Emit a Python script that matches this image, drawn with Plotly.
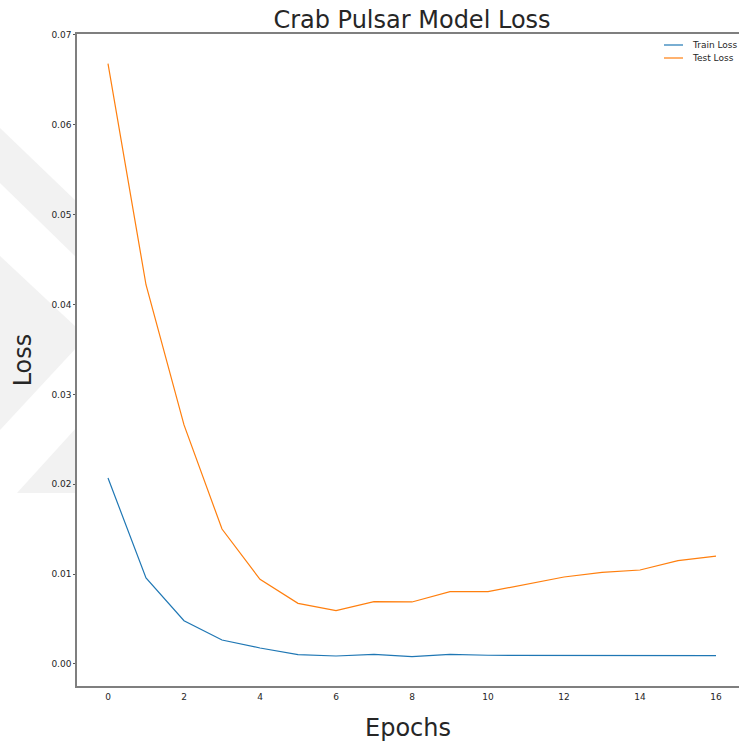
import plotly.graph_objects as go

epochs = list(range(17))
train_loss = [0.0207, 0.00957, 0.00482, 0.00267, 0.00178, 0.00104, 0.00089, 0.00108,
              0.00081, 0.00108, 0.00097, 0.00097, 0.00092, 0.00097, 0.00097, 0.00089, 0.00092]
test_loss = [0.0668, 0.0422, 0.0266, 0.01502, 0.00942, 0.00675, 0.00593, 0.00694,
             0.0069, 0.00805, 0.00805, 0.00887, 0.00968, 0.0102, 0.01046, 0.0115, 0.0120]
y_ticks = [0.00, 0.01, 0.02, 0.03, 0.04, 0.05, 0.06, 0.07]
y_tick_labels = ["0.00", "0.01", "0.02", "0.03", "0.04", "0.05", "0.06", "0.07"]
x_ticks = [0, 2, 4, 6, 8, 10, 12, 14, 16]
series_names = ["Train Loss", "Test Loss"]
series_colors = ["#1f77b4", "#ff7f0e"]

W, H = 739, 742
ML, MT, MB, MR = 77, 34, 56, 0
FONT = "DejaVu Sans"
TXT = "#262626"

fig = go.Figure()
for name, vals, col in zip(series_names, [train_loss, test_loss], series_colors):
    fig.add_trace(go.Scatter(x=epochs, y=vals, mode="lines", name=name,
                             line=dict(color=col, width=1.2), showlegend=False))

pw, ph = W - ML - MR, H - MT - MB
def px(x):
    return (x - ML) / pw
def py(y):
    return 1 - (y - MT) / ph

# faint watermark in the left margin
polys = [
    [(0, 128), (0, 183), (77, 258), (77, 202)],
    [(0, 256), (77, 328), (77, 347), (0, 430)],
    [(17, 493), (77, 427), (77, 493)],
]
shapes = []
for poly in polys:
    path = "M " + " L ".join(f"{px(x)},{py(y)}" for x, y in poly) + " Z"
    shapes.append(dict(type="path", xref="paper", yref="paper", path=path,
                       fillcolor="#f2f2f2", line=dict(width=0), layer="below"))

# legend (matplotlib style, top right, compact)
annotations = []
for i, (name, col) in enumerate(zip(series_names, series_colors)):
    yy = 45 + 13 * i
    shapes.append(dict(type="line", xref="paper", yref="paper",
                       x0=px(664), x1=px(683), y0=py(yy), y1=py(yy),
                       line=dict(color=col, width=1.2)))
    annotations.append(dict(text=name, xref="paper", yref="paper", x=px(690), y=py(yy),
                            xanchor="left", yanchor="middle", showarrow=False,
                            font=dict(size=9, color=TXT, family=FONT)))

fig.update_layout(
    width=W, height=H,
    margin=dict(l=ML, r=MR, t=MT, b=MB, pad=0),
    paper_bgcolor="white", plot_bgcolor="white",
    font=dict(family=FONT, color=TXT, size=9),
    title=dict(text="Crab Pulsar Model Loss", font=dict(family=FONT, size=24, color=TXT),
               x=412 / W, xanchor="center", y=1 - 20 / H, yanchor="middle"),
    showlegend=False,
    shapes=shapes,
    annotations=annotations,
)
fig.update_xaxes(
    range=[-31 / 38, (W - 108) / 38],
    tickvals=x_ticks, ticktext=[str(v) for v in x_ticks],
    showgrid=False, zeroline=False,
    showline=True, linecolor="#7f7f7f", linewidth=1.5, mirror=True,
    ticks="outside", ticklen=1, tickcolor="rgba(0,0,0,0)",
    tickfont=dict(size=9, color=TXT),
    title=dict(text="Epochs", font=dict(size=24, color=TXT), standoff=19),
)
fig.update_yaxes(
    range=[-0.00245, 0.0701],
    tickvals=y_ticks, ticktext=y_tick_labels,
    showgrid=False, zeroline=False,
    showline=True, linecolor="#7f7f7f", linewidth=1.5, mirror=False,
    ticks="outside", ticklen=2, tickcolor="#555555",
    tickfont=dict(size=9, color=TXT),
    title=dict(text="Loss", font=dict(size=24, color=TXT), standoff=13),
)

fig.write_html("out.html")
